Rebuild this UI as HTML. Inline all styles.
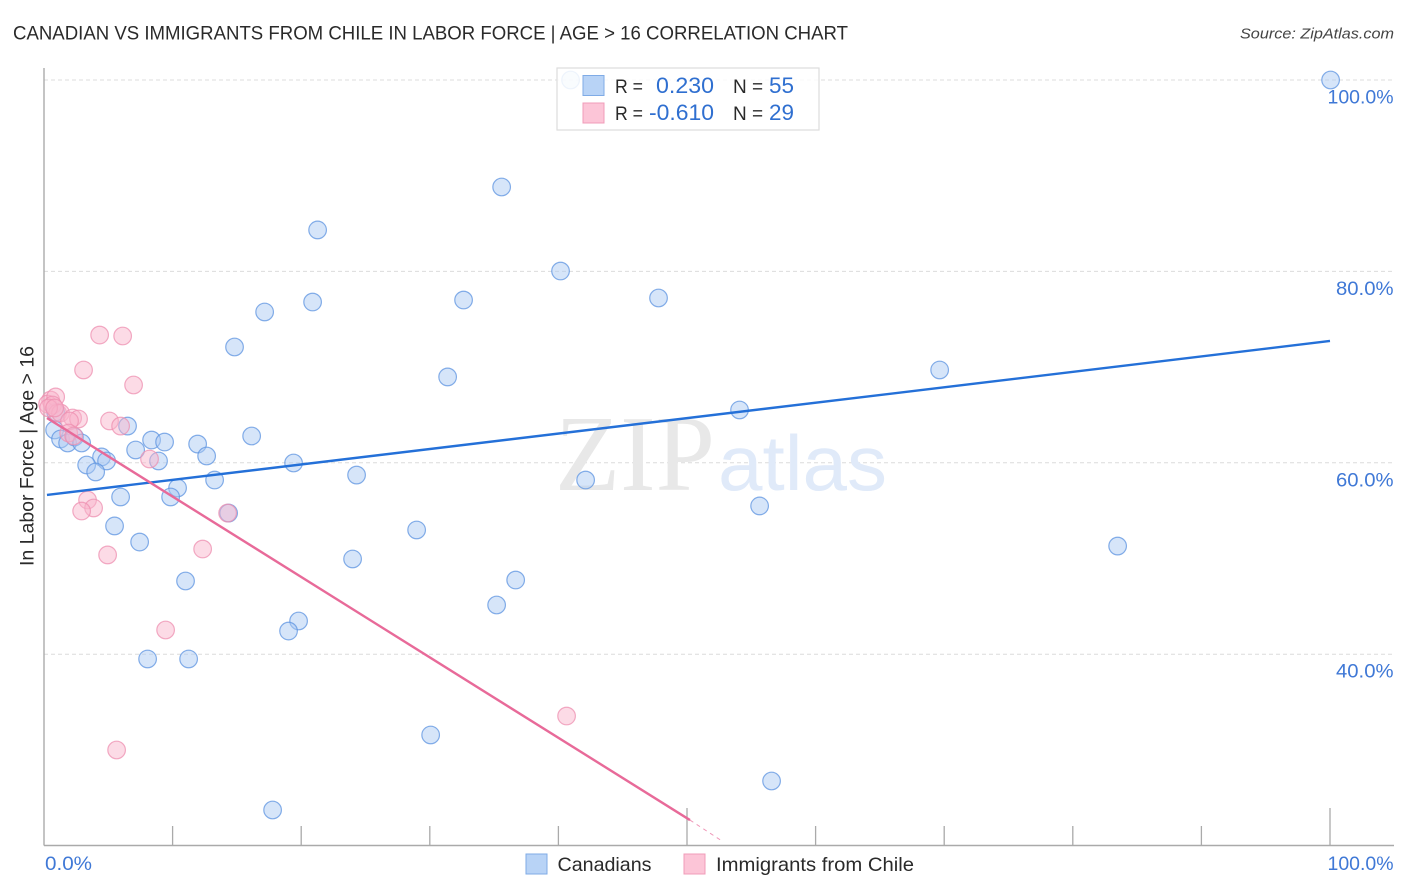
<!DOCTYPE html>
<html lang="en">
<head>
<meta charset="utf-8">
<title>Canadian vs Immigrants from Chile correlation chart</title>
<style>
html,body{margin:0;padding:0;background:#fff;}
svg{display:block;}
text{font-family:"Liberation Sans",sans-serif;}
</style>
</head>
<body>
<svg id="chart" xmlns="http://www.w3.org/2000/svg" width="1406" height="892" viewBox="0 0 1406 892">
  <rect x="0" y="0" width="1406" height="892" fill="#ffffff"/>
  <text x="13" y="39.5" font-size="19" fill="#2a2a2a" textLength="835" lengthAdjust="spacingAndGlyphs">CANADIAN VS IMMIGRANTS FROM CHILE IN LABOR FORCE | AGE &gt; 16 CORRELATION CHART</text>
  <text x="1394" y="38.5" font-size="15" font-style="italic" fill="#444" text-anchor="end" textLength="154" lengthAdjust="spacingAndGlyphs">Source: ZipAtlas.com</text>
  <g id="grid"></g>
  <g>
    <text x="555" y="490" style="font-family:'Liberation Serif',serif" font-size="108" fill="#e8e8e8" textLength="160" lengthAdjust="spacingAndGlyphs">ZIP</text>
    <text x="718" y="490" font-size="78" fill="#e0eaf9" textLength="169" lengthAdjust="spacingAndGlyphs">atlas</text>
  </g>
  <g id="axes"></g>
  <g id="points"></g>
  <g id="trends"></g>
  <g id="labels"></g>
  <g>
    <rect x="557" y="68" width="262" height="62" fill="#ffffff" fill-opacity="0.86" stroke="#dddddd" stroke-width="1.2"/>
    <rect x="583" y="75.5" width="21" height="20" fill="#b8d3f6" stroke="#7fabe6" stroke-width="1"/>
    <rect x="583" y="103" width="21" height="20" fill="#fcc5d7" stroke="#f09cb8" stroke-width="1"/>
    <text x="615" y="93" font-size="19" fill="#2a2a2a" textLength="28" lengthAdjust="spacingAndGlyphs">R =</text>
    <text x="714" y="93" font-size="22" fill="#2f6fd0" text-anchor="end" textLength="58" lengthAdjust="spacingAndGlyphs">0.230</text>
    <text x="733" y="93" font-size="19" fill="#2a2a2a">N =</text>
    <text x="794" y="93" font-size="22" fill="#2f6fd0" text-anchor="end" textLength="25" lengthAdjust="spacingAndGlyphs">55</text>
    <text x="615" y="120" font-size="19" fill="#2a2a2a" textLength="28" lengthAdjust="spacingAndGlyphs">R =</text>
    <text x="714" y="120" font-size="22" fill="#2f6fd0" text-anchor="end" textLength="65" lengthAdjust="spacingAndGlyphs">-0.610</text>
    <text x="733" y="120" font-size="19" fill="#2a2a2a">N =</text>
    <text x="794" y="120" font-size="22" fill="#2f6fd0" text-anchor="end" textLength="25" lengthAdjust="spacingAndGlyphs">29</text>
  </g>
  <g>
    <rect x="526" y="854" width="21" height="20" fill="#b8d3f6" stroke="#7fabe6" stroke-width="1"/>
    <text x="557.5" y="871" font-size="19.5" fill="#2a2a2a" textLength="94" lengthAdjust="spacingAndGlyphs">Canadians</text>
    <rect x="684" y="854" width="21" height="20" fill="#fcc5d7" stroke="#f09cb8" stroke-width="1"/>
    <text x="716" y="871" font-size="19.5" fill="#2a2a2a" textLength="198" lengthAdjust="spacingAndGlyphs">Immigrants from Chile</text>
  </g>
</svg>
<script>
var canadiansX = [100,40.9,35.54,21.23,40.12,20.84,32.58,47.74,17.11,14.77,31.34,69.6,54.04,6.45,0.78,1.24,1.79,2.33,2.88,8.32,9.33,11.9,16.1,12.6,7.08,4.43,4.82,8.86,3.27,3.97,19.36,24.26,13.22,10.34,42.07,5.91,9.8,5.44,14.31,55.6,28.93,7.39,23.95,83.44,10.96,36.63,35.15,19.75,18.97,8.01,11.2,30.02,56.53,17.73,0.86];
var canadiansY = [100,100,88.82,84.33,80.04,76.8,77.01,77.22,75.76,72.1,68.97,69.7,65.52,63.84,63.43,62.49,62.07,62.7,62.07,62.38,62.17,61.96,62.8,60.71,61.34,60.61,60.19,60.19,59.77,59.04,59.98,58.72,58.2,57.37,58.2,56.43,56.43,53.4,54.75,55.49,52.98,51.72,49.95,51.3,47.65,47.75,45.14,43.47,42.42,39.5,39.5,31.56,26.75,23.72,65.3];
var chileX = [0.47,0.23,0.86,0.62,1.01,1.24,0.31,2.18,2.64,1.94,4.28,6.07,3.03,6.92,5.05,5.91,1.87,2.26,8.16,3.34,3.81,2.88,14.23,12.29,4.9,9.41,40.59,5.6,0.78];
var chileY = [66.56,66.14,66.88,66.04,65.2,65.2,65.73,64.68,64.58,64.37,73.35,73.25,69.7,68.13,64.37,63.84,63.11,62.8,60.4,56.11,55.28,54.96,54.75,50.99,50.37,42.53,33.54,29.99,65.73];
var canadiansTrendX = [0.23,100];
var canadiansTrendY = [56.64,72.73];
var chileTrendX = [0.23,50.23];
var chileTrendY = [64.68,22.67];
var chileTrendDashX = [50.23,52.7];
var chileTrendDashY = [22.67,20.5];
var yTicks = [100,80,60,40];
var yTickLabels = ["100.0%","80.0%","60.0%","40.0%"];
var xTicks = [10,20,30,40,50,60,70,80,90,100];
var xTickLabels = ["0.0%","100.0%"];

var NS = 'http://www.w3.org/2000/svg';
function sx(v){ return 44 + v * 12.86; }
function sy(v){ return 80 + (100 - v) * 9.57; }
function px(v){ return sx(v) + 0.6; }
function make(tag, parent, attrs){
  var el = document.createElementNS(NS, tag);
  for (var k in attrs) el.setAttribute(k, attrs[k]);
  document.getElementById(parent).appendChild(el);
  return el;
}

yTicks.forEach(function(t, i){
  var line = make('line', 'grid', {x1:44, x2:1394, y1:sy(t), y2:sy(t), stroke:'#dcdcdc', 'stroke-width':1, 'stroke-dasharray':'4 3'});
  
  
  var label = make('text', 'labels', {x:1393.5, y:sy(t) + 23.5, 'font-size':19.5, fill:'#3f78d6', 'text-anchor':'end', textLength:(t === 100 ? 66 : 57.5), lengthAdjust:'spacingAndGlyphs'});
  
  
  label.textContent = yTickLabels[i];
});

var ySpine = make('line', 'axes', {x1:44, x2:44, y1:68, y2:845.5, stroke:'#aaaaaa', 'stroke-width':1.4});


var xSpine = make('line', 'axes', {x1:44, x2:1394, y1:845.5, y2:845.5, stroke:'#aaaaaa', 'stroke-width':1.4});


xTicks.forEach(function(t){
  var top = (t === 50 || t === 100) ? 808 : 826;
  var tick = make('line', 'axes', {x1:sx(t), x2:sx(t), y1:top, y2:845, stroke:'#aaaaaa', 'stroke-width':1.3});
  
  
});

var xLabelLeft = make('text', 'labels', {x:45, y:870, 'font-size':19.5, fill:'#3f78d6', textLength:47, lengthAdjust:'spacingAndGlyphs'});


xLabelLeft.textContent = xTickLabels[0];
var xLabelRight = make('text', 'labels', {x:1393.5, y:870, 'font-size':19.5, fill:'#3f78d6', 'text-anchor':'end', textLength:66, lengthAdjust:'spacingAndGlyphs'});


xLabelRight.textContent = xTickLabels[1];
var yTitle = make('text', 'labels', {x:0, y:0, 'font-size':19, fill:'#2a2a2a', 'text-anchor':'middle', transform:'translate(33.5 456) rotate(-90)', textLength:220, lengthAdjust:'spacingAndGlyphs'});


yTitle.textContent = 'In Labor Force | Age > 16';

canadiansX.forEach(function(v, i){
  var c = make('circle', 'points', {cx:px(v), cy:sy(canadiansY[i]), r:8.8, fill:'#a9c9f3', 'fill-opacity':0.48, stroke:'#5c93e0', 'stroke-opacity':0.75, 'stroke-width':1.2});
  
  
});
chileX.forEach(function(v, i){
  var c = make('circle', 'points', {cx:px(v), cy:sy(chileY[i]), r:8.8, fill:'#f9b4cb', 'fill-opacity':0.48, stroke:'#ee8fb0', 'stroke-opacity':0.75, 'stroke-width':1.2});
  
  
});

var blueTrend = make('line', 'trends', {x1:sx(canadiansTrendX[0]), y1:sy(canadiansTrendY[0]), x2:sx(canadiansTrendX[1]), y2:sy(canadiansTrendY[1]), stroke:'#2470d8', 'stroke-width':2.4});


var pinkTrend = make('line', 'trends', {x1:sx(chileTrendX[0]), y1:sy(chileTrendY[0]), x2:sx(chileTrendX[1]), y2:sy(chileTrendY[1]), stroke:'#e86a99', 'stroke-width':2.4});


var pinkDash = make('line', 'trends', {x1:sx(chileTrendDashX[0]), y1:sy(chileTrendDashY[0]), x2:sx(chileTrendDashX[1]), y2:sy(chileTrendDashY[1]), stroke:'#e86a99', 'stroke-width':1, 'stroke-dasharray':'4 4', 'stroke-opacity':0.7});


</script>
</body>
</html>
